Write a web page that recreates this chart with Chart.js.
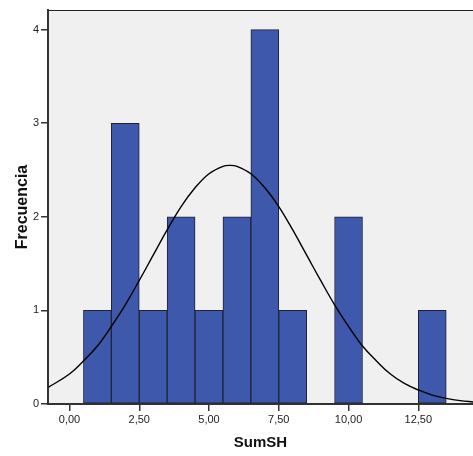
<!DOCTYPE html>
<html lang="es">
  <head>
    <meta charset="UTF-8" />
    <title>SumSH histogram</title>
    <script src="https://cdn.jsdelivr.net/npm/chart.js"></script>
    <style>
      body {
        margin: 0;
        background: #ffffff;
      }
      canvas {
        display: block;
      }
    </style>
  </head>
  <body>
    <canvas id="histChart" width="473" height="456"></canvas>

    <script>
      // Histogram bins (bin centres, width 1) and frequencies
      const binCentres = [1, 2, 3, 4, 5, 6, 7, 8, 9, 10, 11, 12, 13];
      const frequencies = [1, 3, 1, 2, 1, 2, 4, 1, 0, 2, 0, 0, 1];

      // Normal curve
      const curveX = [-0.75, 0, 0.5, 1, 1.5, 2, 2.5, 3, 3.5, 4, 4.5, 5, 5.5, 5.75, 6, 6.5, 7,
        7.5, 8, 8.5, 9, 9.5, 10, 10.5, 11, 11.5, 12, 12.5, 13, 13.5, 14, 14.5];
      const curveY = [0.18, 0.32, 0.46, 0.62, 0.83, 1.06, 1.32, 1.59, 1.86, 2.11, 2.31,
        2.46, 2.54, 2.55, 2.54, 2.46, 2.31, 2.11, 1.86, 1.59, 1.32, 1.06, 0.83, 0.62, 0.46,
        0.32, 0.22, 0.15, 0.095, 0.06, 0.036, 0.021];

      // Axis ticks
      const xTicks = [0, 2.5, 5, 7.5, 10, 12.5];
      const yTicks = [0, 1, 2, 3, 4];

      const barData = binCentres
        .map((x, i) => ({ x: x, y: frequencies[i] }))
        .filter((p) => p.y > 0);
      const curveData = curveX.map((x, i) => ({ x: x, y: curveY[i] }));

      // plot background + top frame line
      const plotBg = {
        id: "plotBg",
        beforeDraw(chart) {
          const { ctx, chartArea: a } = chart;
          ctx.save();
          ctx.fillStyle = "#f0f0f0";
          ctx.fillRect(a.left, a.top, a.right - a.left, a.bottom - a.top);
          ctx.strokeStyle = "#222";
          ctx.lineWidth = 1;
          ctx.beginPath();
          ctx.moveTo(a.left, a.top + 0.5);
          ctx.lineTo(a.right, a.top + 0.5);
          ctx.stroke();
          ctx.restore();
        },
      };

      const axisFont = { family: "Arial, 'Liberation Sans', sans-serif", size: 11 };
      const titleFont = { family: "Arial, 'Liberation Sans', sans-serif", size: 15, weight: "bold" };

      new Chart(document.getElementById("histChart"), {
        data: {
          datasets: [
            {
              type: "line",
              data: curveData,
              borderColor: "#000",
              borderWidth: 1.4,
              pointRadius: 0,
              tension: 0.4,
              order: 0,
            },
            {
              type: "bar",
              data: barData,
              backgroundColor: "#3e58ab",
              borderColor: "#1e2233",
              borderWidth: 1,
              borderSkipped: false,
              barPercentage: 1,
              categoryPercentage: 1,
              order: 1,
            },
          ],
        },
        options: {
          responsive: false,
          animation: false,
          layout: { padding: { top: 10, left: 0, right: 0, bottom: 0 } },
          plugins: {
            legend: { display: false },
            tooltip: { enabled: false },
          },
          scales: {
            x: {
              type: "linear",
              offset: false,
              min: -0.77,
              max: 14.46,
              afterBuildTicks: (s) => {
                s.ticks = xTicks.map((v) => ({ value: v }));
              },
              afterFit: (s) => {
                s.height = 52;
              },
              ticks: {
                color: "#222",
                font: axisFont,
                padding: 2,
                maxRotation: 0,
                callback: (v) => v.toFixed(2).replace(".", ","),
              },
              grid: {
                offset: false,
                drawOnChartArea: false,
                drawTicks: true,
                tickLength: 7,
                color: "#333",
                lineWidth: 1.5,
              },
              border: { display: true, color: "#333", width: 2 },
              title: {
                display: true,
                text: "SumSH",
                color: "#111",
                font: titleFont,
                padding: { top: 6, bottom: 4 },
              },
            },
            y: {
              min: 0,
              max: 4.21,
              afterBuildTicks: (s) => {
                s.ticks = yTicks.map((v) => ({ value: v }));
              },
              afterFit: (s) => {
                s.width = 48;
              },
              ticks: {
                color: "#222",
                font: axisFont,
                padding: 2,
              },
              grid: {
                drawOnChartArea: false,
                drawTicks: true,
                tickLength: 7,
                color: "#333",
                lineWidth: 1.5,
              },
              border: { display: true, color: "#333", width: 2 },
              title: {
                display: true,
                text: "Frecuencia",
                color: "#111",
                font: { family: "Arial, 'Liberation Sans', sans-serif", size: 16, weight: "bold" },
                padding: { top: 13, bottom: 4 },
              },
            },
          },
        },
        plugins: [plotBg],
      });
    </script>
  </body>
</html>
